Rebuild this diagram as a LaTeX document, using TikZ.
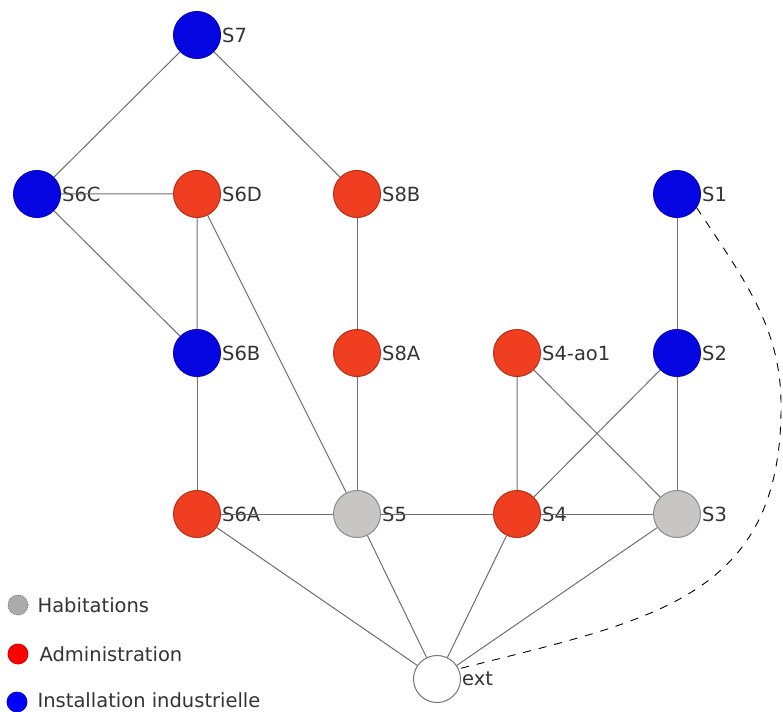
\documentclass[tikz,border=0pt]{standalone}
\usepackage{fontspec}
\setmainfont{DejaVu Sans}
\usetikzlibrary{positioning}
\definecolor{admin}{RGB}{240,62,32}
\definecolor{indus}{RGB}{5,5,225}
\definecolor{habit}{RGB}{200,197,197}
\definecolor{edgegray}{RGB}{110,110,110}
\begin{document}
\begin{tikzpicture}[x=1pt,y=-1pt,
  every node/.style={font=\fontsize{19.5}{22}\selectfont, text=black!80},
  site/.style={circle, draw, line width=1pt, minimum size=47pt, inner sep=0pt,
    label={[label distance=0pt, inner sep=1pt]right:#1}},
  hab/.style={site=#1, fill=habit, draw=black!45},
  adm/.style={site=#1, fill=admin, draw=admin!75!black},
  ind/.style={site=#1, fill=indus, draw=indus!80!black},
  outside/.style={site=#1, fill=white, draw=black!55},
  link/.style={draw=edgegray, line width=1pt},
  dot/.style={circle, minimum size=20pt, inner sep=0pt, line width=0.8pt}]
\useasboundingbox (0,0) rectangle (783,711);

\node[ind=S7] (S7) at (197,35) {};
\node[ind=S6C] (S6C) at (37,194) {};
\node[adm=S6D] (S6D) at (197,194) {};
\node[adm=S8B] (S8B) at (357,194) {};
\node[ind=S1] (S1) at (677,194) {};
\node[ind=S6B] (S6B) at (197,353) {};
\node[adm=S8A] (S8A) at (357,353) {};
\node[adm=S4-ao1] (S4ao1) at (517,353) {};
\node[ind=S2] (S2) at (677,353) {};
\node[adm=S6A] (S6A) at (197,514) {};
\node[hab=S5] (S5) at (357,514) {};
\node[adm=S4] (S4) at (517,514) {};
\node[hab=S3] (S3) at (677,514) {};
\node[outside=ext] (ext) at (437,679) {};

\draw[link] (S7)--(S6C) (S7)--(S8B);
\draw[link] (S6C)--(S6D) (S6C)--(S6B) (S6D)--(S6B) (S6D)--(S5);
\draw[link] (S8B)--(S8A) (S8A)--(S5) (S6B)--(S6A);
\draw[link] (S6A)--(S5) (S5)--(S4) (S4)--(S3);
\draw[link] (S4ao1)--(S4) (S4ao1)--(S3) (S2)--(S4);
\draw[link] (S1)--(S2) (S2)--(S3);
\draw[link] (S6A)--(ext) (S5)--(ext) (S4)--(ext) (S3)--(ext);
\draw[dashed, line width=0.9pt, dash pattern=on 8pt off 8pt]
  (S1.-35) .. controls (747,283) and (781,330) .. (781,405)
  .. controls (782,600) and (650,620) .. (ext.25);

% legende
\node[dot, fill=black!33, draw=black!55, densely dotted] (lh) at (18,605) {};
\node[right=9pt of lh, inner sep=0pt] (th) {Habitations};
\node[dot, fill=red, draw=red!80!black] (la) at (18,654) {};
\node[right=11pt of la, inner sep=0pt] (ta) {Administration};
\node[dot, fill=blue, draw=blue!80!black] (li) at (17,702) {};
\node[right=10pt of li, inner sep=0pt, yshift=2pt] (ti) {Installation industrielle};
\end{tikzpicture}
\end{document}
